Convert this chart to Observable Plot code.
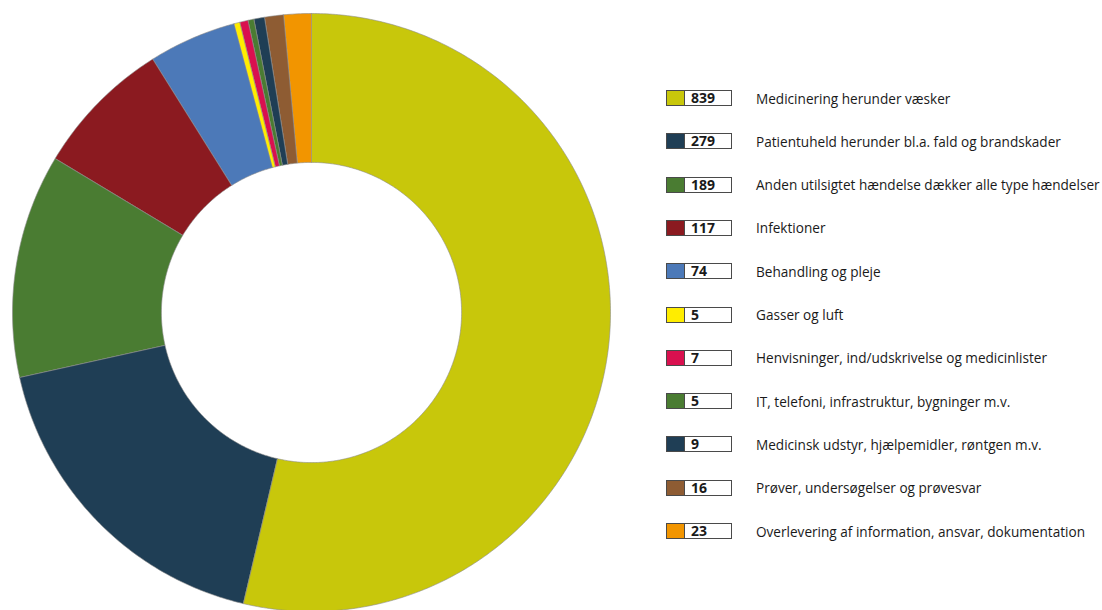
<!DOCTYPE html>
<html>
<head>
<meta charset="utf-8">
<script src="https://cdn.jsdelivr.net/npm/d3@7"></script>
<script src="https://cdn.jsdelivr.net/npm/@observablehq/plot@0.6"></script>
<style>
  html, body { margin: 0; padding: 0; background: #fff; }
  #wrap { position: relative; width: 1102px; height: 610px; overflow: hidden; }
  #chart { position: absolute; left: 0; top: 0; }
  #legend { position: absolute; left: 666px; top: 0; font-family: "Open Sans", sans-serif; color: #1a1a1a; }
  .row { position: absolute; left: 0; height: 18px; display: flex; align-items: center; white-space: nowrap; }
  .box { display: flex; width: 64px; height: 14px; border: 1px solid #4a4a4a; box-sizing: content-box; }
  .sw { width: 17px; height: 14px; border-right: 1px solid #4a4a4a; }
  .num { flex: 1; background: #fff; font-weight: 700; font-size: 14px; line-height: 14px; padding-left: 6px; }
  .lab { margin-left: 24px; font-size: 13.6px; }
</style>
</head>
<body>
<div id="wrap">
  <div id="chart"></div>
  <div id="legend"></div>
</div>
<script>
const categories = [
  "Medicinering herunder væsker",
  "Patientuheld herunder bl.a. fald og brandskader",
  "Anden utilsigtet hændelse dækker alle type hændelser",
  "Infektioner",
  "Behandling og pleje",
  "Gasser og luft",
  "Henvisninger, ind/udskrivelse og medicinlister",
  "IT, telefoni, infrastruktur, bygninger m.v.",
  "Medicinsk udstyr, hjælpemidler, røntgen m.v.",
  "Prøver, undersøgelser og prøvesvar",
  "Overlevering af information, ansvar, dokumentation"
];
const values = [839, 279, 189, 117, 74, 5, 7, 5, 9, 16, 23];
const colors = ["#c8c70b", "#1f3e55", "#4a7c32", "#8b1a20", "#4c79b8", "#ffed00", "#d9104f", "#4a7c32", "#1f3e55", "#8e5c33", "#f29500"];

const innerRatio = 0.502;

// Build slice polygons from d3.pie angles (clockwise from 12 o'clock)
const pie = d3.pie().sort(null).value(d => d.value);
const arcs = pie(categories.map((name, i) => ({name, value: values[i]})));
const points = [];
for (const a of arcs) {
  const n = Math.max(4, Math.ceil((a.endAngle - a.startAngle) / 0.01));
  for (let k = 0; k <= n; k++) {
    const t = a.startAngle + (a.endAngle - a.startAngle) * k / n;
    points.push({name: a.data.name, x: Math.sin(t), y: Math.cos(t)});
  }
  for (let k = n; k >= 0; k--) {
    const t = a.startAngle + (a.endAngle - a.startAngle) * k / n;
    points.push({name: a.data.name, x: innerRatio * Math.sin(t), y: innerRatio * Math.cos(t)});
  }
}

const cx = 311, cy = 312, R = 299;
const chart = Plot.plot({
  width: 1102,
  height: 610,
  margin: 0,
  x: {domain: [-1, 1], range: [cx - R, cx + R], axis: null},
  y: {domain: [-1, 1], range: [cy + R, cy - R], axis: null},
  color: {domain: categories, range: colors},
  marks: [
    Plot.line(points, {x: "x", y: "y", z: "name", fill: "name", stroke: "#8c8c8c", strokeWidth: 0.6, curve: "linear-closed"})
  ]
});
document.getElementById("chart").appendChild(chart);

// Legend
const legend = document.getElementById("legend");
const rowTop = 89, rowStep = 43.3;
categories.forEach((name, i) => {
  const row = document.createElement("div");
  row.className = "row";
  row.style.top = (rowTop + i * rowStep) + "px";
  row.innerHTML = `<div class="box"><div class="sw" style="background:${colors[i]}"></div><div class="num">${values[i]}</div></div><div class="lab">${name}</div>`;
  legend.appendChild(row);
});
</script>
</body>
</html>
